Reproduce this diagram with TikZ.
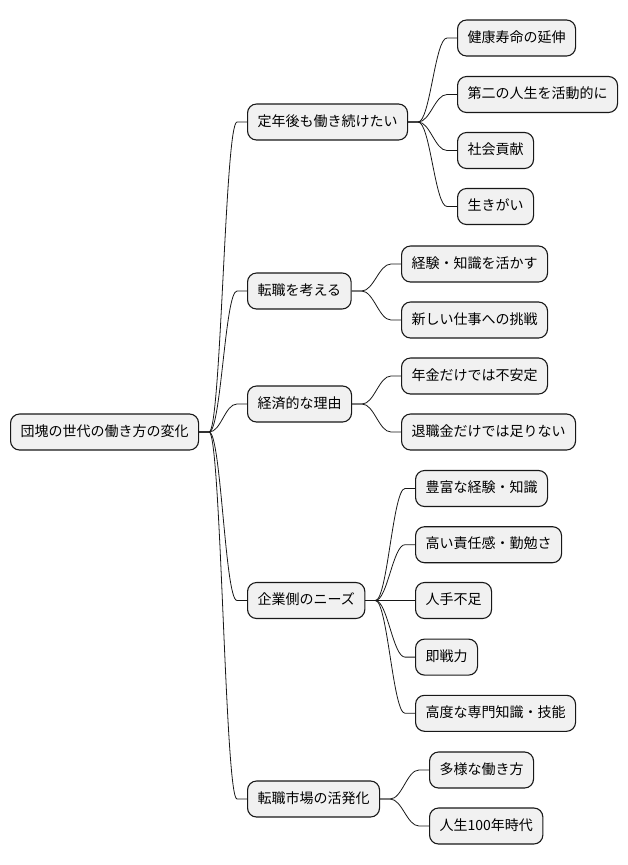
\documentclass[tikz,border=0pt]{standalone}
\usepackage{fontspec}
\setmainfont{Noto Sans CJK JP}
\definecolor{nodefill}{RGB}{241,241,241}
\definecolor{nodeborder}{RGB}{24,24,24}
\usepackage{tikz}
\usetikzlibrary{positioning}

\tikzset{
  mmbox/.style={fill=nodefill,draw=nodeborder,line width=1.1pt,rounded corners=9pt,
        anchor=west,minimum height=36pt,inner xsep=10pt,inner ysep=0pt,
        text height=11pt,text depth=3pt,font=\fontsize{14pt}{16pt}\selectfont},
  mmlink/.style={draw=nodeborder,line width=0.8pt}
}

\begin{document}
\begin{tikzpicture}[x=1pt,y=-1pt]
  \useasboundingbox (0,0) rectangle (628,865);

  % Root
  \node[mmbox] (root) at (10,432) {団塊の世代の働き方の変化};

  % First level
  \node[mmbox] (work)   at (247,122)   {定年後も働き続けたい};
  \node[mmbox] (change) at (247,291)   {転職を考える};
  \node[mmbox] (money)  at (247,404)   {経済的な理由};
  \node[mmbox] (needs)  at (247,600.5) {企業側のニーズ};
  \node[mmbox] (market) at (247,799)   {転職市場の活発化};

  % Branch: work
  \node[mmbox] (work1) at (457,38)    {健康寿命の延伸};
  \node[mmbox] (work2) at (457,94.5)  {第二の人生を活動的に};
  \node[mmbox] (work3) at (457,150.5) {社会貢献};
  \node[mmbox] (work4) at (457,206.5) {生きがい};

  % Branch: change
  \node[mmbox] (change1) at (401,264) {経験・知識を活かす};
  \node[mmbox] (change2) at (401,320) {新しい仕事への挑戦};

  % Branch: money
  \node[mmbox] (money1) at (401,376) {年金だけでは不安定};
  \node[mmbox] (money2) at (401,432) {退職金だけでは足りない};

  % Branch: needs
  \node[mmbox] (needs1) at (415,488.5) {豊富な経験・知識};
  \node[mmbox] (needs2) at (415,544.7) {高い責任感・勤勉さ};
  \node[mmbox] (needs3) at (415,600.5) {人手不足};
  \node[mmbox] (needs4) at (415,657.1) {即戦力};
  \node[mmbox] (needs5) at (415,713.3) {高度な専門知識・技能};

  % Branch: market
  \node[mmbox] (market1) at (429,770) {多様な働き方};
  \node[mmbox] (market2) at (429,826) {人生100年時代};

  % Links
  \foreach \from/\to in {root/work,root/change,root/money,root/needs,root/market,
      work/work1,work/work2,work/work3,work/work4,
      change/change1,change/change2,money/money1,money/money2,
      needs/needs1,needs/needs2,needs/needs3,needs/needs4,needs/needs5,
      market/market1,market/market2}
    \draw[mmlink] (\from.east) -- ++(10,0)
      .. controls +(12,0) and +(-12,0) .. ([xshift=-10pt]\to.west) -- (\to.west);
\end{tikzpicture}
\end{document}
